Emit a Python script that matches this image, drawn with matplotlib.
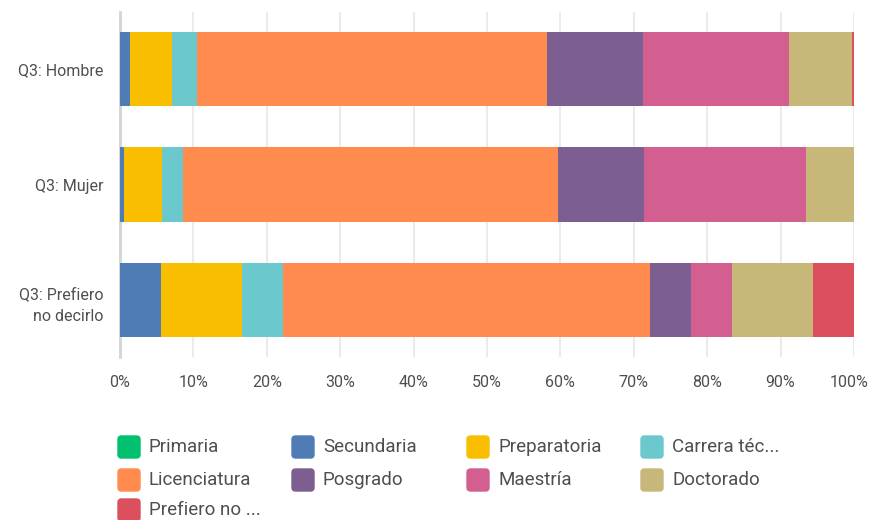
import numpy as np
import matplotlib.pyplot as plt
from matplotlib.patches import FancyBboxPatch
from matplotlib.transforms import ScaledTranslation

# categories and percentages per group
groups = ["Q3: Hombre", "Q3: Mujer", "Q3: Prefiero\nno decirlo"]
levels = ["Primaria", "Secundaria", "Preparatoria", "Carrera téc...",
          "Licenciatura", "Posgrado", "Maestría", "Doctorado", "Prefiero no ..."]
primaria = [0.0, 0.0, 0.0]
secundaria = [1.3, 0.5, 5.56]
preparatoria = [5.75, 5.2, 11.11]
carrera = [3.5, 2.95, 5.56]
licenciatura = [47.65, 51.05, 50.0]
posgrado = [13.1, 11.7, 5.56]
maestria = [19.9, 22.1, 5.56]
doctorado = [8.5, 6.5, 11.11]
prefiero = [0.3, 0.0, 5.56]
colors = ["#00BF6F", "#507CB6", "#F9BE00", "#6BC8CD", "#FF8B4F",
          "#7D5E90", "#D25F90", "#C7B879", "#DC4F5C"]

series = [primaria, secundaria, preparatoria, carrera, licenciatura,
          posgrado, maestria, doctorado, prefiero]

plt.rcParams['font.family'] = ['Roboto', 'DejaVu Sans']
text_col = "#4f4f4f"

fig = plt.figure(figsize=(8.69, 5.2), dpi=100)
ax = fig.add_axes([120/869, 1 - 357/520, 734/869, 345/520])

y = np.arange(len(groups))
left = np.zeros(len(groups))
for vals, c in zip(series, colors):
    ax.barh(y, vals, left=left, height=0.64, color=c, zorder=3)
    left += np.array(vals)

ax.set_xlim(0, 100)
ax.set_ylim(2.49, -0.49)
ax.set_xticks(np.arange(0, 101, 10))
ax.set_xticklabels([f"{v}%" for v in range(0, 101, 10)])
ax.set_yticks(y)
ax.set_yticklabels(groups, ha="right", multialignment="right", linespacing=1.6)
ax.tick_params(length=0, labelsize=11.5, colors=text_col)
ax.tick_params(axis="x", pad=13)
ax.tick_params(axis="y", pad=12)
ax.grid(axis="x", color="#ebebeb", lw=1.5, zorder=0)
for s in ["top", "right", "bottom"]:
    ax.spines[s].set_visible(False)
ax.spines["left"].set_color("#d4d4d4")
ax.spines["left"].set_linewidth(2)

# nudge the last tick label so it stays inside the figure
last = ax.get_xticklabels()[-1]
last.set_transform(last.get_transform() + ScaledTranslation(-5/100, 0, fig.dpi_scale_trans))

# legend drawn by hand: rounded squares in a 4-column grid
col_x = [118, 292, 467, 641]
row_y = [447, 480, 510]
for i, (name, c) in enumerate(zip(levels, colors)):
    cx = col_x[i % 4]
    cy = row_y[i // 4]
    w, h = 22 / 869, 22 / 520
    box = FancyBboxPatch((cx / 869, 1 - cy / 520 - h / 2), w, h,
                         boxstyle="round,pad=0,rounding_size=0.004",
                         transform=fig.transFigure, color=c,
                         mutation_aspect=869 / 520)
    fig.patches.append(box)
    fig.text((cx + 31) / 869, 1 - cy / 520, name, fontsize=13.5,
             color=text_col, va="center", ha="left")

fig.savefig("out.png", dpi=100)
